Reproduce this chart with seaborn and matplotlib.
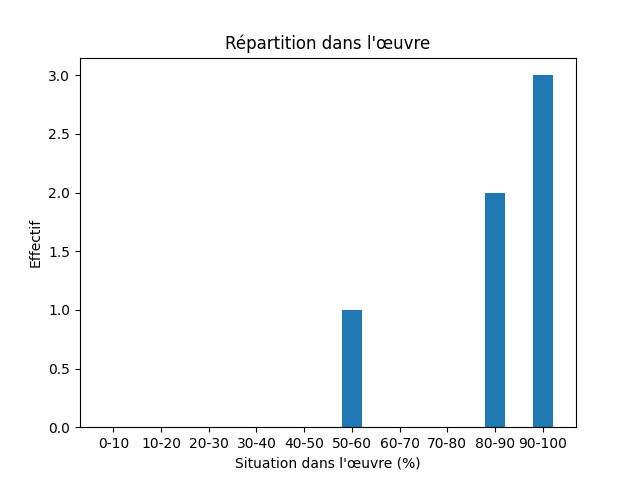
import pandas as pd
import matplotlib
matplotlib.use('Agg')
import matplotlib.pyplot as plt
import seaborn as sns

# Données
tranches = ['0-10', '10-20', '20-30', '30-40', '40-50',
            '50-60', '60-70', '70-80', '80-90', '90-100']
effectifs = [0, 0, 0, 0, 0, 1, 0, 0, 2, 3]

df = pd.DataFrame({'tranche': tranches, 'effectif': effectifs})

fig, ax = plt.subplots(figsize=(6.4, 4.8), dpi=100)
sns.barplot(x='tranche', y='effectif', data=df, color='#1f77b4',
            saturation=1, width=0.42, ax=ax)
ax.set_xlim(-0.7, 9.7)
ax.set_ylim(0, 3.15)
ax.set_title("Répartition dans l'œuvre")
ax.set_xlabel("Situation dans l'œuvre (%)")
ax.set_ylabel('Effectif')
fig.savefig('out.png')
